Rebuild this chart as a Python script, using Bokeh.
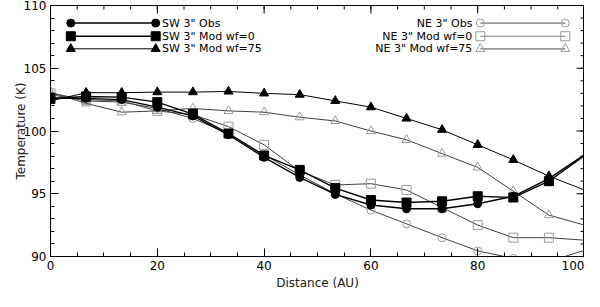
import math
from bokeh.plotting import figure
from bokeh.models import Range1d, Label, FixedTicker, Title
from bokeh.embed import file_html
from bokeh.resources import INLINE

# ---- data ----
distance = [0, 6.67, 13.33, 20, 26.67, 33.33, 40, 46.67, 53.33, 60, 66.67, 73.33, 80, 86.67, 93.33, 100]

sw_obs = [102.6, 102.6, 102.5, 101.9, 101.2, 99.7, 97.9, 96.3, 94.95, 94.1, 93.8, 93.8, 94.2, 94.8, 96.2, 98.1]
sw_wf0 = [102.6, 102.75, 102.7, 102.3, 101.35, 99.8, 98.05, 96.9, 95.45, 94.5, 94.3, 94.4, 94.8, 94.7, 96.0, 98.05]
sw_wf75 = [102.4, 103.05, 103.05, 103.1, 103.1, 103.15, 103.0, 102.9, 102.4, 101.9, 101.0, 100.1, 98.9, 97.7, 96.4, 95.3]

ne_obs = [102.9, 102.4, 102.3, 101.8, 101.0, 99.8, 98.1, 96.5, 95.0, 93.7, 92.6, 91.5, 90.45, 89.85, 89.6, 90.5]
ne_wf0 = [103.0, 102.5, 102.4, 101.6, 101.3, 100.35, 98.9, 96.8, 95.7, 95.8, 95.3, 93.9, 92.5, 91.5, 91.5, 91.3]
ne_wf75 = [103.1, 102.2, 101.5, 101.6, 101.8, 101.6, 101.5, 101.1, 100.8, 100.0, 99.3, 98.2, 97.1, 95.2, 93.3, 92.5]

x_ticks = [0, 20, 40, 60, 80, 100]
y_ticks = [90, 95, 100, 105, 110]
x_minor = list(range(0, 101, 5))
y_minor = list(range(90, 111, 1))

x_title = "Distance (AU)"
y_title = "Temperature (K)"
sw_labels = ['SW 3" Obs', 'SW 3" Mod wf=0', 'SW 3" Mod wf=75']
ne_labels = ['NE 3" Obs', 'NE 3" Mod wf=0', 'NE 3" Mod wf=75']

FONT = "DejaVu Sans"
GRAY_M = "#9a9a9a"
GRAY_L = "#404040"

p = figure(width=584, height=291, output_backend="svg", toolbar_location=None,
           x_range=Range1d(0, 100), y_range=Range1d(90, 110),
           min_border_left=50, min_border_right=0, min_border_top=5, min_border_bottom=35)
p.outline_line_color = "black"
p.grid.visible = False
p.background_fill_color = "white"

def style_axis(ax, ticks, minor):
    ax.ticker = FixedTicker(ticks=ticks, minor_ticks=minor)
    ax.major_tick_in = 8
    ax.major_tick_out = 0
    ax.minor_tick_in = 4
    ax.minor_tick_out = 0
    ax.axis_line_color = "black"
    ax.major_tick_line_color = "black"
    ax.minor_tick_line_color = "black"
    ax.major_label_text_font = FONT
    ax.major_label_text_color = "black"
    ax.major_label_text_font_size = "12px"
    ax.axis_label_text_font = FONT
    ax.axis_label_text_font_size = "12px"
    ax.axis_label_text_font_style = "normal"
    ax.axis_label_text_color = "#222222"

style_axis(p.xaxis[0], x_ticks, x_minor)
style_axis(p.yaxis[0], y_ticks, y_minor)
p.xaxis[0].major_label_standoff = 4
p.xaxis[0].axis_label = None
p.xaxis[0].axis_label_standoff = 0
p.yaxis[0].major_label_standoff = 4
p.yaxis[0].axis_label = y_title
p.yaxis[0].axis_label_standoff = -7

p.add_layout(Title(text=x_title, align="center", text_font=FONT, text_font_size="12px",
                   text_font_style="normal", text_color="#222222", standoff=3, offset=0),
             "below")

# mirrored ticks on the top and right edges (drawn inward, screen-length rays)
p.ray(x=x_ticks, y=[110] * len(x_ticks), length=8, angle=-math.pi / 2, length_units="screen",
      line_color="black", line_width=1)
p.ray(x=x_minor, y=[110] * len(x_minor), length=4, angle=-math.pi / 2, length_units="screen",
      line_color="black", line_width=1)
p.ray(x=[100] * len(y_ticks), y=y_ticks, length=8, angle=math.pi, length_units="screen",
      line_color="black", line_width=1)
p.ray(x=[100] * len(y_minor), y=y_minor, length=4, angle=math.pi, length_units="screen",
      line_color="black", line_width=1)

n = len(distance) - 1  # last point only continues the line to the frame edge

# NE series (gray open markers)
for ys, marker, size in ((ne_obs, "circle", 8), (ne_wf0, "square", 9), (ne_wf75, "triangle", 9)):
    p.line(distance, ys, line_color=GRAY_L, line_width=1)
    p.scatter(distance[:n], ys[:n], marker=marker, size=size, fill_color="white",
              fill_alpha=0, line_color=GRAY_M, line_width=1)

# SW series (black filled markers)
for ys, marker, size, lw in ((sw_obs, "circle", 8, 1.4), (sw_wf0, "square", 9, 1.4), (sw_wf75, "triangle", 9, 1)):
    p.line(distance, ys, line_color="black", line_width=lw)
    p.scatter(distance[:n], ys[:n], marker=marker, size=size, fill_color="black",
              line_color="black")

# ---- legends (layout positions) ----
leg_y = [108.6, 107.55, 106.55]
sw_markers = [("circle", 8, 1.4), ("square", 9, 1.4), ("triangle", 9, 1)]
for yy, lab, (mk, sz, lw) in zip(leg_y, sw_labels, sw_markers):
    p.line([3.8, 19.7], [yy, yy], line_color="black", line_width=lw)
    p.scatter([3.8, 19.7], [yy, yy], marker=mk, size=sz, fill_color="black", line_color="black")
    p.add_layout(Label(x=20.9, y=yy, text=lab, text_font=FONT, text_font_size="11px",
                       text_baseline="middle", text_align="left", text_color="black"))

ne_markers = [("circle", 8), ("square", 9), ("triangle", 9)]
for yy, lab, (mk, sz) in zip(leg_y, ne_labels, ne_markers):
    p.line([80.5, 96.4], [yy, yy], line_color="#777777", line_width=1.2)
    p.scatter([80.5, 96.4], [yy, yy], marker=mk, size=sz, fill_color="white", fill_alpha=0,
              line_color=GRAY_M)
    p.add_layout(Label(x=79.0, y=yy, text=lab, text_font=FONT, text_font_size="11px",
                       text_baseline="middle", text_align="right", text_color="black"))

open("out.html", "w").write(file_html(p, INLINE))
